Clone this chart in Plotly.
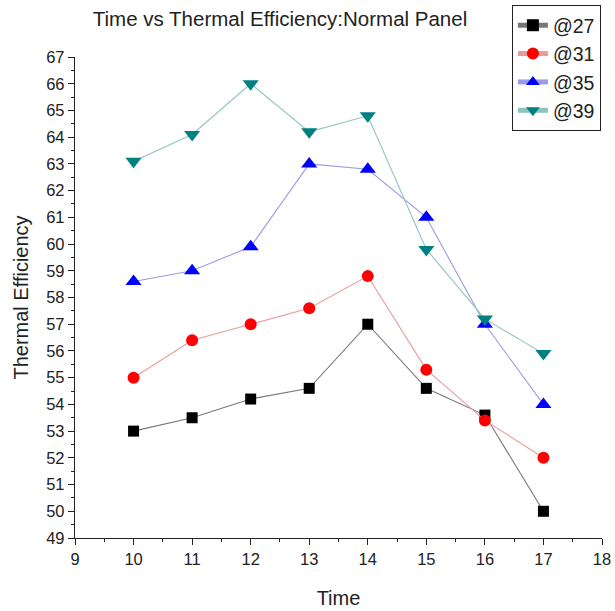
import plotly.graph_objects as go

# Hour of day
time = [10, 11, 12, 13, 14, 15, 16, 17]

# Thermal efficiency (%) for each inlet condition
eff_27 = [53.0, 53.5, 54.2, 54.6, 57.0, 54.6, 53.6, 50.0]
eff_31 = [55.0, 56.4, 57.0, 57.6, 58.8, 55.3, 53.4, 52.0]
eff_35 = [58.6, 59.0, 59.9, 63.0, 62.8, 61.0, 57.0, 54.0]
eff_39 = [63.1, 64.1, 66.0, 64.2, 64.8, 59.8, 57.2, 55.9]

series_names = ["@27", "@31", "@35", "@39"]
series_values = [eff_27, eff_31, eff_35, eff_39]
marker_colors = ["#000000", "#ff0000", "#0000ff", "#008080"]
line_colors = ["#777777", "#eb9a9a", "#9a9ae6", "#8cc4be"]
symbols = ["square", "circle", "triangle-up", "triangle-down"]
sizes = [11, 12, 14, 14]

FONT = "Liberation Sans, Arial, sans-serif"
TXT = "#222222"

fig = go.Figure()
for name, vals, mc, lc, sym, sz in zip(series_names, series_values, marker_colors,
                                        line_colors, symbols, sizes):
    fig.add_trace(go.Scatter(
        x=time, y=vals, name=name, mode="lines+markers",
        line=dict(color=lc, width=1.1),
        marker=dict(symbol=sym, size=sz, color=mc, line=dict(width=0)),
    ))

axis_common = dict(
    showline=True, linecolor=TXT, linewidth=1.3,
    ticks="outside", ticklen=6, tickwidth=1.3, tickcolor=TXT,
    showgrid=False, zeroline=False, mirror=False, automargin=False,
    tickfont=dict(family=FONT, size=16.5, color=TXT),
)

fig.update_xaxes(
    range=[9, 18], dtick=1, tick0=9,
    minor=dict(dtick=0.5, ticks="outside", ticklen=3, tickcolor=TXT, tickwidth=1.2),
    title=dict(text="Time", font=dict(family=FONT, size=20, color=TXT), standoff=24),
    **axis_common,
)
fig.update_yaxes(
    range=[49, 67], dtick=1, tick0=49,
    minor=dict(dtick=0.5, ticks="outside", ticklen=3, tickcolor=TXT, tickwidth=1.2),
    title=dict(text="Thermal Efficiency", font=dict(family=FONT, size=20, color=TXT), standoff=12),
    **axis_common,
)

fig.update_layout(
    width=615, height=611,
    margin=dict(l=75, r=13, t=57, b=73, autoexpand=False),
    paper_bgcolor="white", plot_bgcolor="white",
    title=dict(text="Time vs Thermal Efficiency:Normal Panel",
               font=dict(family=FONT, size=20.5, color=TXT),
               x=280 / 615, xanchor="center", y=1 - 19 / 611, yanchor="middle"),
    legend=dict(x=0.829, xanchor="left", y=1.108, yanchor="top",
                bordercolor=TXT, borderwidth=1, bgcolor="white",
                font=dict(family=FONT, size=19.5, color=TXT),
                itemsizing="constant", tracegroupgap=0),
    showlegend=True,
)

fig.write_html("out.html")
